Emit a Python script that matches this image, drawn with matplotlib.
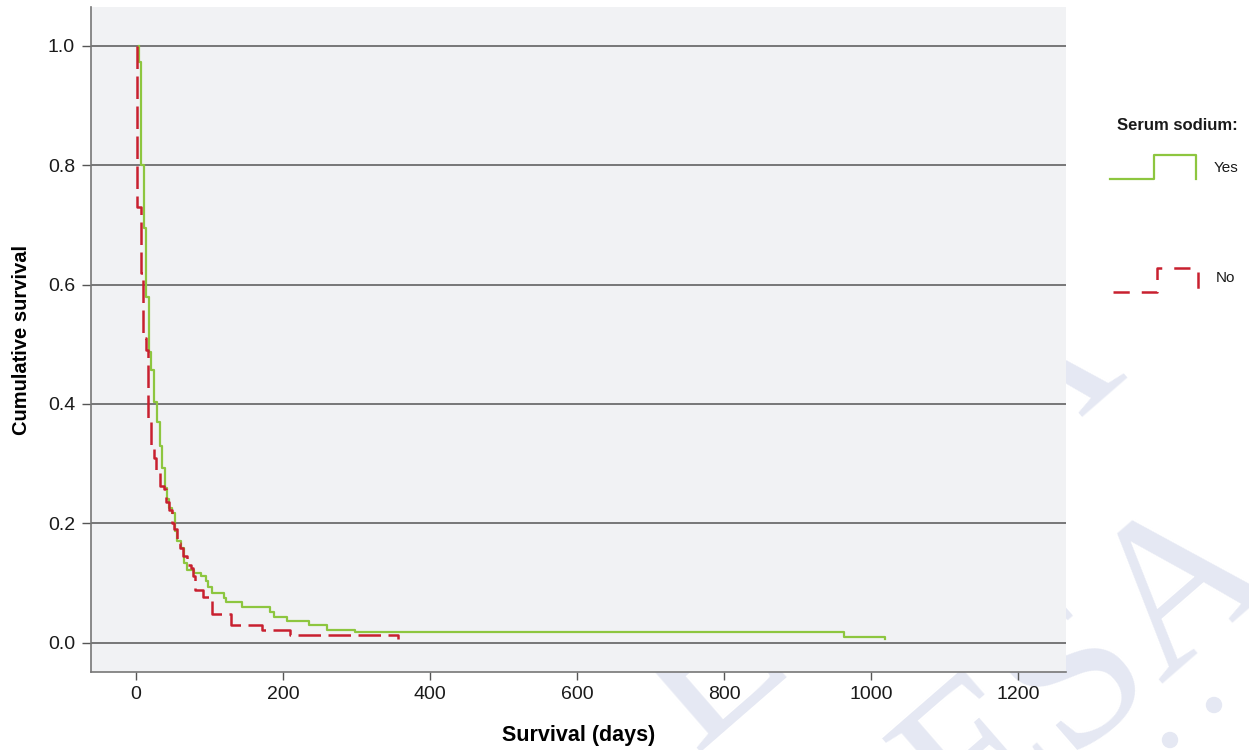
import matplotlib
matplotlib.use('Agg')
import matplotlib.pyplot as plt
from matplotlib.lines import Line2D
from matplotlib.patches import Ellipse

plt.rcParams['font.family'] = ['Liberation Sans', 'DejaVu Sans']

# serum sodium = yes : drop times (days) and survival after each drop
yes_start = 4
yes_days = [4, 7.2, 10.9, 14, 17.7, 20.8, 24.5, 28.2, 32.3, 35, 39.5, 42, 45,
            49.4, 53, 56, 61, 66, 70, 79, 88, 95, 98, 104, 120, 122, 144, 183,
            188, 206, 235, 260, 298, 963, 1019]
yes_surv = [0.973, 0.80, 0.695, 0.579, 0.487, 0.457, 0.403, 0.370, 0.330,
            0.292, 0.260, 0.240, 0.226, 0.218, 0.187, 0.170, 0.159, 0.134,
            0.122, 0.117, 0.112, 0.103, 0.093, 0.084, 0.075, 0.069, 0.060,
            0.051, 0.043, 0.036, 0.030, 0.022, 0.018, 0.009, 0.006]

# serum sodium = no
no_start = 2
no_days = [2, 7.2, 10, 14, 16.7, 20, 24.5, 27.6, 32.7, 38, 41, 45, 48.6, 51.7,
           56, 59.5, 64.4, 70, 74.5, 78, 81, 91.6, 104, 129, 171, 209, 356]
no_surv = [0.73, 0.62, 0.51, 0.49, 0.377, 0.332, 0.31, 0.287, 0.262, 0.257,
           0.235, 0.223, 0.20, 0.19, 0.167, 0.159, 0.145, 0.131, 0.125, 0.111,
           0.089, 0.077, 0.048, 0.030, 0.022, 0.013, 0.006]

xticks = [0, 200, 400, 600, 800, 1000, 1200]
yticks = [0.0, 0.2, 0.4, 0.6, 0.8, 1.0]

green = '#8DC63F'
red = '#C8202F'

W, H = 1249, 750
def fx(px):
    return px / W
def fy(py):
    return 1 - py / H

fig = plt.figure(figsize=(12.49, 7.5), dpi=100)

# faint watermark behind the axes
wm_color = '#E5E8F3'
wm = dict(rotation=41, rotation_mode='anchor', fontsize=156,
          family='Liberation Serif', color=wm_color, zorder=-5)
fig.text(fx(1278), fy(577), 'ESA', ha='right', va='baseline', **wm)
fig.text(fx(745), fy(709), 'E', ha='center', va='baseline', **wm)
fig.text(fx(1070), fy(426), 'A', ha='center', va='baseline', **wm)
for (px, py) in [(1214, 705), (1170, 740)]:
    fig.add_artist(Ellipse((fx(px), fy(py)), 15 / W, 15 / H,
                           transform=fig.transFigure, color=wm_color,
                           zorder=-5))

ax = fig.add_axes([0.0729, 0.104, 0.7806, 0.8866])
ax.set_facecolor('#F1F2F4')

ax.plot([yes_start] + yes_days, [1.0] + yes_surv, drawstyle='steps-post',
        color=green, lw=1.6, zorder=3)
ax.plot([no_start] + no_days, [1.0] + no_surv, drawstyle='steps-post',
        color=red, lw=1.8, dashes=(9, 3), zorder=4)

ax.set_xlim(-61, 1265)
ax.set_ylim(-0.049, 1.065)
ax.set_xticks(xticks)
ax.set_yticks(yticks)
ax.set_yticklabels(['%.1f' % v for v in yticks])
for v in yticks:
    ax.axhline(v, color='#555555', lw=1.1, zorder=2)

for s in ['top', 'right']:
    ax.spines[s].set_visible(False)
for s in ['left', 'bottom']:
    ax.spines[s].set_color('#777777')
    ax.spines[s].set_linewidth(1.2)
ax.tick_params(axis='x', direction='out', length=6, width=1, color='#555555',
               labelsize=14, pad=4, labelcolor='#1a1a1a')
ax.tick_params(axis='y', direction='out', length=6.5, width=1, color='#555555',
               labelsize=14, pad=5, labelcolor='#1a1a1a')

ax.set_xlabel('Survival (days)', fontsize=15.5, fontweight='bold', labelpad=16)
ax.set_ylabel('Cumulative survival', fontsize=14.5, fontweight='bold', labelpad=12)

# legend drawn to the right
fig.text(fx(1177), fy(126), 'Serum sodium:', fontsize=12, fontweight='bold',
         ha='center', va='center', color='#1a1a1a')
fig.add_artist(Line2D([fx(1110), fx(1154), fx(1154), fx(1196), fx(1196)],
                      [fy(179), fy(179), fy(155), fy(155), fy(179)],
                      color=green, lw=1.6))
fig.add_artist(Line2D([fx(1113), fx(1157), fx(1157), fx(1198), fx(1198)],
                      [fy(292), fy(292), fy(268), fy(268), fy(292)],
                      color=red, lw=1.8, dashes=(6.5, 4.8)))
fig.text(fx(1214), fy(168), 'Yes', fontsize=11, va='center', ha='left',
         color='#1a1a1a')
fig.text(fx(1216), fy(278), 'No', fontsize=11, va='center', ha='left',
         color='#1a1a1a')

fig.savefig('out.png', dpi=100)
